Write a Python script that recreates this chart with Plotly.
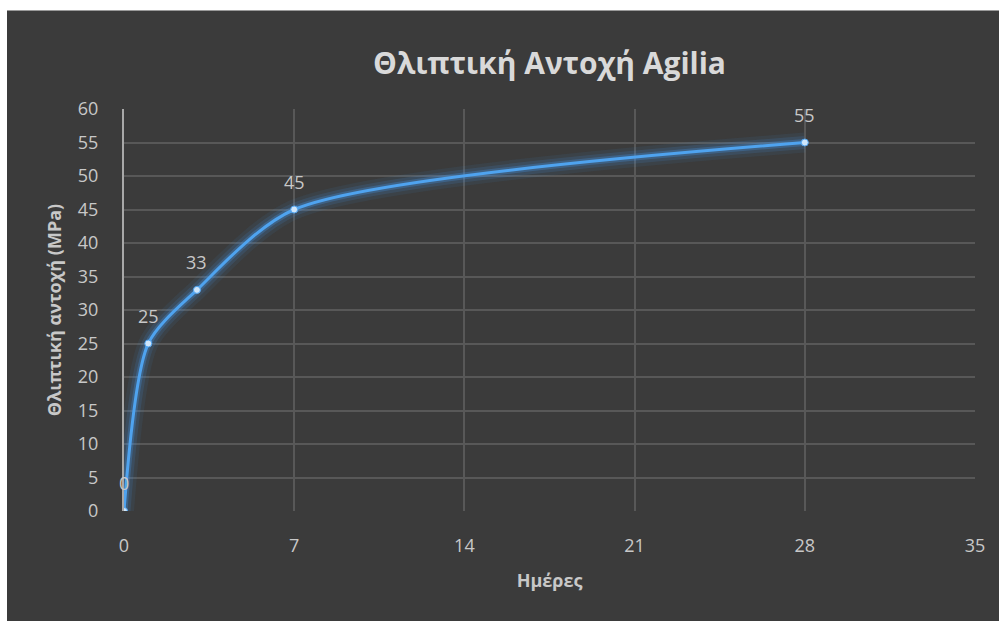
import plotly.graph_objects as go

# Compressive strength of Agilia concrete over curing time
days = [0, 1, 3, 7, 28]
strength_mpa = [0, 25, 33, 45, 55]

x_ticks = [0, 7, 14, 21, 28, 35]
y_ticks = [0, 5, 10, 15, 20, 25, 30, 35, 40, 45, 50, 55, 60]

W, H = 999, 621
L, R, T, B = 124, 24, 109, 110
PW, PH = W - L - R, H - T - B


def px_to_paper_x(px):
    return (px - L) / PW


def px_to_paper_y(py):
    return 1 - (py - T) / PH


BG = "#3b3b3b"
GRID = "#585858"
TXT = "#c8c8c8"
LINE = "#4fa3ef"
FONT = "Open Sans"
SMOOTH = 0.75

fig = go.Figure()

# soft glow underneath the curve
for w, a in [(20, 0.08), (13, 0.14), (7, 0.28)]:
    fig.add_trace(go.Scatter(
        x=days, y=strength_mpa, mode="lines",
        line=dict(color=f"rgba(70,150,235,{a})", width=w, shape="spline", smoothing=SMOOTH),
        hoverinfo="skip", showlegend=False,
    ))

fig.add_trace(go.Scatter(
    x=days, y=strength_mpa, mode="lines+markers",
    line=dict(color=LINE, width=3, shape="spline", smoothing=SMOOTH),
    marker=dict(size=7, color="#cfe6fb", line=dict(color=LINE, width=1)),
    showlegend=False,
))

# value labels above each point
for d, s in zip(days, strength_mpa):
    fig.add_annotation(
        x=d, y=s, text=str(s), showarrow=False, yshift=28,
        font=dict(family=FONT, size=18, color=TXT),
    )

shapes = [
    # white frame at top and left
    dict(type="rect", xref="paper", yref="paper",
         x0=px_to_paper_x(0), x1=px_to_paper_x(W), y0=px_to_paper_y(10), y1=px_to_paper_y(0),
         fillcolor="white", line=dict(width=0), layer="below"),
    dict(type="rect", xref="paper", yref="paper",
         x0=px_to_paper_x(0), x1=px_to_paper_x(7), y0=px_to_paper_y(H), y1=px_to_paper_y(0),
         fillcolor="white", line=dict(width=0), layer="below"),
    dict(type="line", xref="paper", yref="paper",
         x0=px_to_paper_x(7), x1=px_to_paper_x(W), y0=px_to_paper_y(10.5), y1=px_to_paper_y(10.5),
         line=dict(color="#9a9a9a", width=1), layer="below"),
]

fig.update_layout(
    width=W, height=H,
    margin=dict(l=L, r=R, t=T, b=B, pad=0),
    paper_bgcolor=BG, plot_bgcolor=BG,
    shapes=shapes,
    title=dict(
        text="<b>Θλιπτική Αντοχή Agilia</b>",
        x=0.5, xref="paper", y=1 - 63 / H, yanchor="middle",
        font=dict(family=FONT, size=30, color="#d9d9d9"),
    ),
    xaxis=dict(
        range=[0, 35], tickvals=x_ticks, ticktext=[str(v) for v in x_ticks],
        showgrid=True, gridcolor=GRID, gridwidth=2, zeroline=False,
        showline=False, ticks="", ticklabelstandoff=22,
        tickfont=dict(family=FONT, size=18, color=TXT),
        title=dict(text="<b>Ημέρες</b>", standoff=18,
                   font=dict(family=FONT, size=18, color=TXT)),
    ),
    yaxis=dict(
        range=[0, 60], tickvals=y_ticks, ticktext=[str(v) for v in y_ticks],
        showgrid=True, gridcolor=GRID, gridwidth=2, zeroline=False,
        showline=True, linecolor="#a8a8a8", linewidth=2, ticks="",
        ticklabelstandoff=20,
        tickfont=dict(family=FONT, size=18, color=TXT),
        title=dict(text="<b>Θλιπτική αντοχή (MPa)</b>", standoff=12,
                   font=dict(family=FONT, size=18, color=TXT)),
    ),
)

fig.write_html("out.html")
